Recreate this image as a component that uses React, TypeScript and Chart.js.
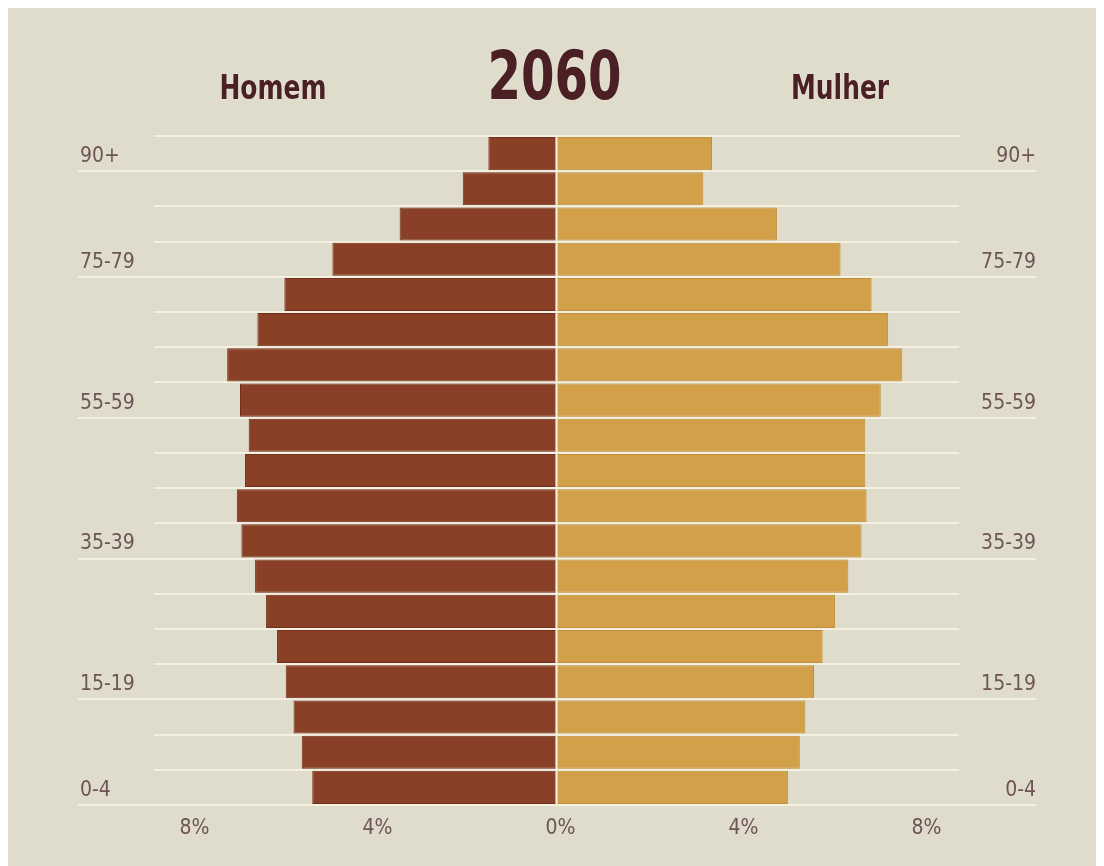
import React, { useEffect, useRef } from 'react';
import { Chart, registerables } from 'chart.js';

Chart.register(...registerables);

const ageGroups = ['0-4', '5-9', '10-14', '15-19', '20-24', '25-29', '30-34', '35-39', '40-44', '45-49', '50-54', '55-59', '60-64', '65-69', '70-74', '75-79', '80-84', '85-89', '90+'];
const homem = [5.34, 5.57, 5.75, 5.92, 6.11, 6.35, 6.59, 6.89, 6.99, 6.81, 6.73, 6.92, 7.2, 6.54, 5.95, 4.9, 3.43, 2.05, 1.49];
const mulher = [5.06, 5.32, 5.44, 5.63, 5.82, 6.09, 6.38, 6.67, 6.78, 6.75, 6.75, 7.09, 7.56, 7.25, 6.89, 6.21, 4.82, 3.21, 3.4];
const shownAgeLabels = ['0-4', '15-19', '35-39', '55-59', '75-79', '90+'];
const xTickValues = [-8, -4, 0, 4, 8];
const titleText = '2060';
const seriesNames = ['Homem', 'Mulher'];

const FONT = "'DejaVu Sans Condensed', 'Liberation Sans Narrow', sans-serif";
const BG = '#dfdccb';
const GRID = '#f4f0e2';
const TICK_COLOR = '#6e5456';
const TITLE_COLOR = '#4a2024';

const tickColorFn = (ctx: any) =>
  ctx.type === 'tick' && shownAgeLabels.includes(ageGroups[ctx.index]) ? GRID : 'rgba(0,0,0,0)';

const labelCallback = (_v: any, i: number) => (shownAgeLabels.includes(ageGroups[i]) ? ageGroups[i] : '');

function drawScaledText(ctx: CanvasRenderingContext2D, text: string, cx: number, y: number, sx: number) {
  ctx.save();
  ctx.translate(cx, y);
  ctx.scale(sx, 1);
  ctx.fillText(text, 0, 0);
  ctx.restore();
}

const decorPlugin = {
  id: 'decor',
  afterDatasetsDraw(chart: any) {
    const { ctx, chartArea, scales } = chart;
    const x0 = scales.x.getPixelForValue(0);
    ctx.save();
    ctx.strokeStyle = GRID;
    ctx.lineWidth = 2;
    ctx.beginPath();
    ctx.moveTo(x0, chartArea.top);
    ctx.lineTo(x0, chartArea.bottom);
    ctx.stroke();
    ctx.restore();
  },
  afterDraw(chart: any) {
    const { ctx, scales } = chart;
    const x = scales.x;
    ctx.save();
    ctx.fillStyle = TITLE_COLOR;
    ctx.shadowColor = 'rgba(255,255,255,0.5)';
    ctx.shadowBlur = 2;
    ctx.textBaseline = 'alphabetic';
    ctx.textAlign = 'center';
    ctx.font = `bold 67px ${FONT}`;
    drawScaledText(ctx, titleText, x.getPixelForValue(0) - 2, 91, 0.8);
    ctx.font = `bold 33px ${FONT}`;
    drawScaledText(ctx, chart.data.datasets[0].label, x.getPixelForValue(-6.2), 91, 0.84);
    drawScaledText(ctx, chart.data.datasets[1].label, x.getPixelForValue(6.2), 91, 0.84);
    ctx.restore();
  },
};

export default function App() {
  const ref = useRef<HTMLCanvasElement>(null);

  useEffect(() => {
    const canvas = ref.current;
    if (!canvas) return;
    const tickFont = { family: FONT, size: 21 };
    const chart = new Chart(canvas, {
      type: 'bar',
      data: {
        labels: ageGroups,
        datasets: [
          {
            label: seriesNames[0],
            data: homem.map((v) => -v),
            backgroundColor: '#8a3f27',
            borderColor: '#73301c',
            borderWidth: 1,
            borderSkipped: false,
            barPercentage: 0.94,
            categoryPercentage: 1,
            yAxisID: 'y',
          },
          {
            label: seriesNames[1],
            data: mulher,
            backgroundColor: '#d2a048',
            borderColor: '#c2903c',
            borderWidth: 1,
            borderSkipped: false,
            barPercentage: 0.94,
            categoryPercentage: 1,
            yAxisID: 'y',
          },
        ],
      },
      options: {
        indexAxis: 'y',
        responsive: false,
        animation: false,
        layout: { padding: { left: 72, right: 68, top: 128, bottom: 21 } },
        plugins: {
          legend: { display: false },
          tooltip: { enabled: false },
          title: { display: false },
        },
        scales: {
          x: {
            type: 'linear',
            stacked: true,
            min: -8.8,
            max: 8.8,
            afterBuildTicks: (s: any) => {
              s.ticks = xTickValues.map((v) => ({ value: v }));
            },
            afterFit: (s: any) => {
              s.height = 40;
            },
            grid: { display: false, drawTicks: false },
            border: { display: false },
            ticks: {
              autoSkip: false,
              maxRotation: 0,
              padding: 11,
              labelOffset: 4,
              color: TICK_COLOR,
              font: tickFont,
              callback: (v: any) => `${Math.abs(Number(v))}%`,
            },
          },
          y: {
            type: 'category',
            position: 'left',
            reverse: true,
            stacked: true,
            offset: true,
            afterFit: (s: any) => {
              s.width = 74;
            },
            grid: {
              offset: true,
              color: GRID,
              lineWidth: 2,
              drawTicks: true,
              tickLength: 76,
              tickColor: tickColorFn,
            },
            border: { display: false },
            ticks: {
              autoSkip: false,
              crossAlign: 'far',
              padding: 0,
              labelOffset: 3,
              color: TICK_COLOR,
              font: tickFont,
              callback: labelCallback,
            },
          },
          y2: {
            type: 'category',
            position: 'right',
            labels: ageGroups,
            reverse: true,
            offset: true,
            afterFit: (s: any) => {
              s.width = 77;
            },
            grid: {
              offset: true,
              drawOnChartArea: false,
              color: GRID,
              lineWidth: 2,
              drawTicks: true,
              tickLength: 77,
              tickColor: tickColorFn,
            },
            border: { display: false },
            ticks: {
              autoSkip: false,
              crossAlign: 'far',
              padding: 0,
              labelOffset: 3,
              color: TICK_COLOR,
              font: tickFont,
              callback: labelCallback,
            },
          },
        },
      },
      plugins: [decorPlugin],
    } as any);
    return () => chart.destroy();
  }, []);

  return (
    <div style={{ width: 1096, height: 858, background: BG }}>
      <canvas ref={ref} width={1096} height={858} style={{ display: 'block' }} />
    </div>
  );
}
